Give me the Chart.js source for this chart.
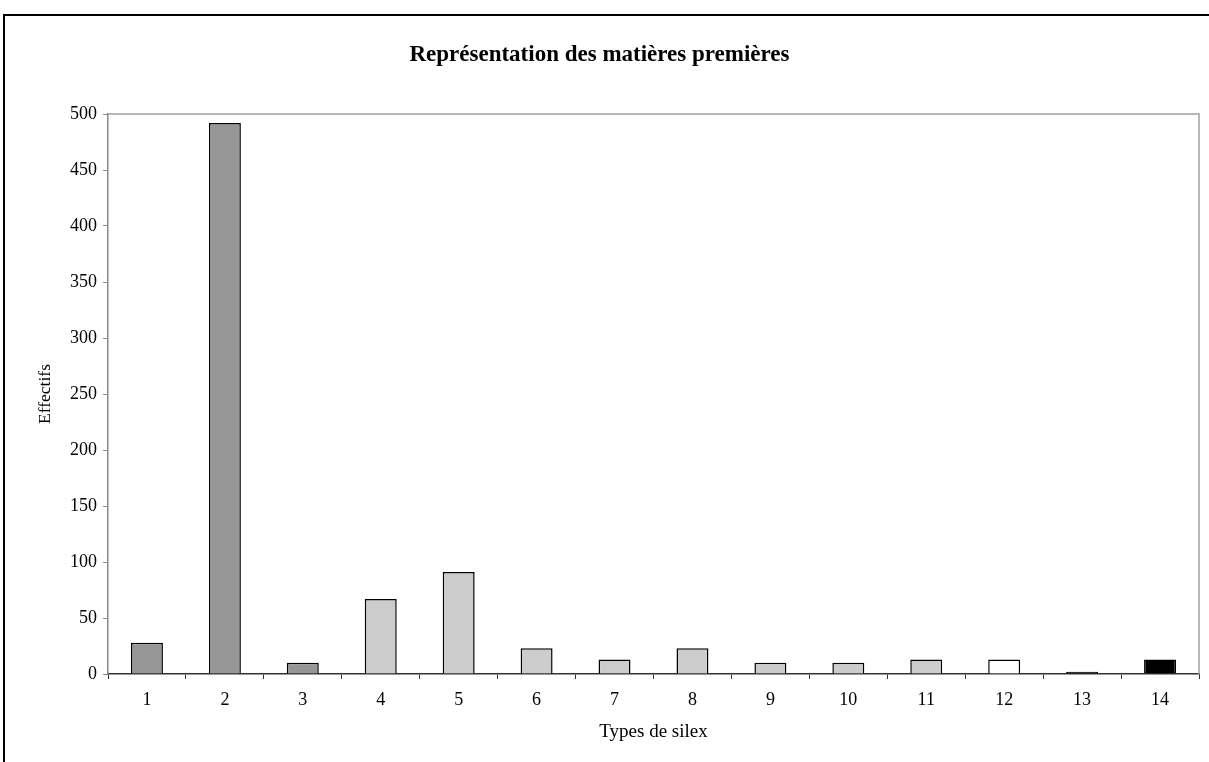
<!DOCTYPE html>
<html>
<head>
<meta charset="utf-8">
<script src="https://cdn.jsdelivr.net/npm/chart.js@4"></script>
<style>
  html, body { margin: 0; padding: 0; background: #ffffff; }
  #wrap { width: 1209px; height: 762px; position: relative; }
</style>
</head>
<body>
<div id="wrap"><canvas id="c" width="1209" height="762"></canvas></div>
<script>
const categories = ['1','2','3','4','5','6','7','8','9','10','11','12','13','14'];
const effectifs = [28, 492, 10, 67, 91, 23, 13, 23, 10, 10, 13, 13, 2, 13];
const barColors = ['#969696','#969696','#969696','#cccccc','#cccccc','#cccccc','#cccccc','#cccccc','#cccccc','#cccccc','#cccccc','#ffffff','#000000','#000000'];
const yTicks = [0, 50, 100, 150, 200, 250, 300, 350, 400, 450, 500];
const chartTitle = 'Représentation des matières premières';
const xTitle = 'Types de silex';
const yTitle = 'Effectifs';

const serif = "'Liberation Serif', 'DejaVu Serif', serif";

const framePlugin = {
  id: 'frame',
  beforeDraw(chart) {
    const ctx = chart.ctx;
    ctx.save();
    ctx.fillStyle = '#ffffff';
    ctx.fillRect(0, 0, chart.width, chart.height);
    ctx.strokeStyle = '#000000';
    ctx.lineWidth = 2;
    ctx.beginPath();
    ctx.moveTo(4, 800);
    ctx.lineTo(4, 15);
    ctx.lineTo(1300, 15);
    ctx.stroke();
    ctx.restore();
  },
  afterDatasetsDraw(chart) {
    const a = chart.chartArea;
    const ctx = chart.ctx;
    ctx.save();
    ctx.strokeStyle = '#a0a0a0';
    ctx.lineWidth = 1.5;
    ctx.beginPath();
    ctx.moveTo(a.left, a.top);
    ctx.lineTo(a.right, a.top);
    ctx.lineTo(a.right, a.bottom);
    ctx.stroke();
    ctx.restore();
  }
};

new Chart(document.getElementById('c'), {
  type: 'bar',
  data: {
    labels: categories,
    datasets: [{
      data: effectifs,
      backgroundColor: barColors,
      borderColor: '#000000',
      borderWidth: 1.5,
      barPercentage: 0.41,
      categoryPercentage: 1.0
    }]
  },
  options: {
    responsive: false,
    animation: false,
    devicePixelRatio: 1,
    layout: { padding: { top: 0, left: 0, right: 10, bottom: 0 } },
    plugins: {
      legend: { display: false },
      tooltip: { enabled: false },
      title: {
        display: true,
        text: chartTitle,
        color: '#000000',
        font: { family: serif, size: 23, weight: 'bold', lineHeight: 1.2 },
        padding: { top: 41.2, bottom: 45.2 }
      }
    },
    scales: {
      x: {
        offset: true,
        grid: {
          display: true,
          drawOnChartArea: false,
          drawTicks: true,
          tickLength: 5,
          offset: true,
          color: '#333333'
        },
        border: { display: true, color: '#333333', width: 1.5 },
        ticks: {
          color: '#000000',
          font: { family: serif, size: 18, lineHeight: 1.2 },
          padding: 10,
          maxRotation: 0,
          autoSkip: false
        },
        title: {
          display: true,
          text: xTitle,
          color: '#000000',
          font: { family: serif, size: 19, lineHeight: 1.2 },
          padding: { top: 0, bottom: 18.6 }
        },
        afterFit(scale) { scale.height = 88; }
      },
      y: {
        min: 0,
        max: 500,
        afterBuildTicks(scale) { scale.ticks = yTicks.map(v => ({ value: v })); },
        grid: {
          display: true,
          drawOnChartArea: false,
          drawTicks: true,
          tickLength: 5,
          color: '#888888'
        },
        border: { display: true, color: '#888888', width: 1.5 },
        ticks: {
          color: '#000000',
          font: { family: serif, size: 18 },
          padding: 6
        },
        title: {
          display: true,
          text: yTitle,
          color: '#000000',
          font: { family: serif, size: 17.5, lineHeight: 1.2 },
          padding: { top: 34.5, bottom: 0 }
        },
        afterFit(scale) { scale.width = 108; }
      }
    }
  },
  plugins: [framePlugin]
});
</script>
</body>
</html>
